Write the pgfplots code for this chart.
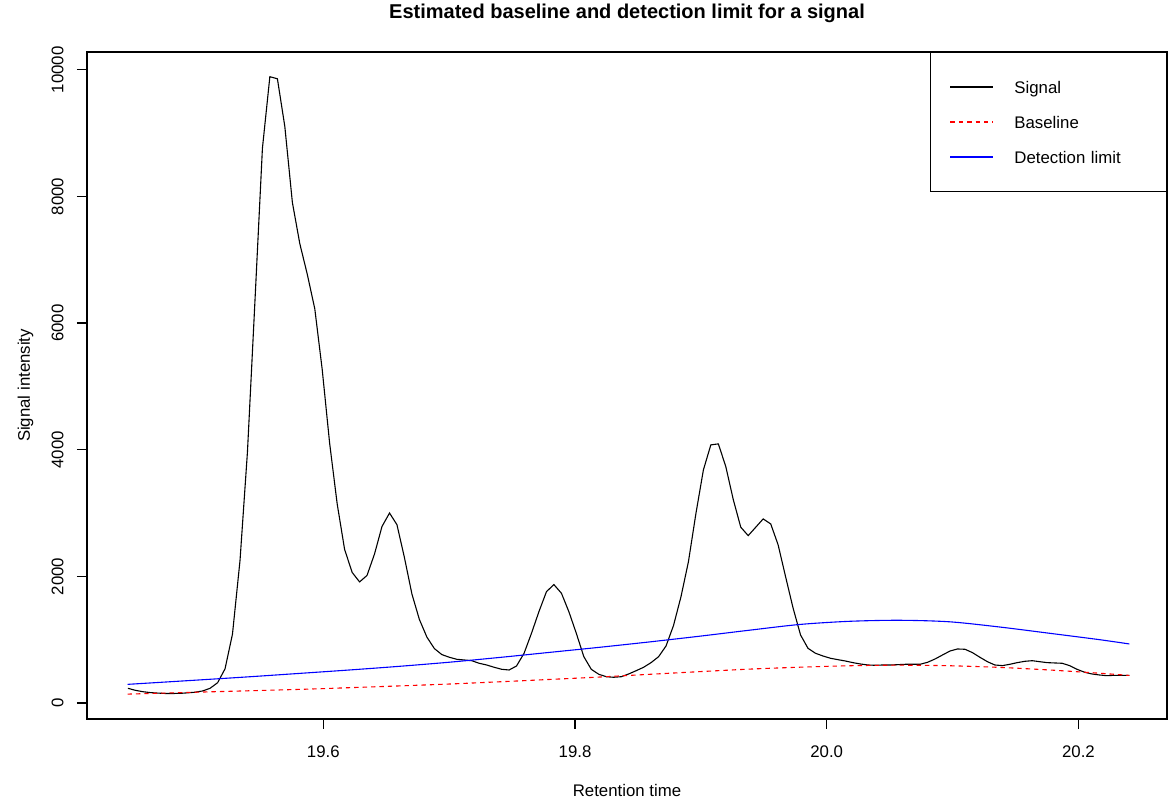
\documentclass[border=0pt]{standalone}
\usepackage{fontspec}
\setmainfont{Liberation Sans}
\usepackage{pgfplots}
\usepackage{pgfplotstable}
\pgfplotsset{compat=1.18}

% Signal intensity against retention time
\pgfplotstableread{
t y
19.4447 232
19.4506 200
19.4566 178
19.4625 164
19.4685 156
19.4744 150
19.4803 150
19.4863 152
19.4922 160
19.4982 170
19.5041 190
19.5100 232
19.5160 320
19.5219 540
19.5278 1088
19.5338 2253
19.5397 3965
19.5457 6363
19.5516 8761
19.5575 9891
19.5635 9858
19.5694 9104
19.5754 7905
19.5813 7254
19.5872 6774
19.5932 6226
19.5991 5267
19.6050 4103
19.6110 3144
19.6169 2425
19.6229 2062
19.6288 1912
19.6347 2014
19.6407 2355
19.6466 2787
19.6526 3000
19.6585 2815
19.6644 2300
19.6704 1720
19.6763 1320
19.6823 1040
19.6882 860
19.6941 765
19.7001 722
19.7060 690
19.7120 679
19.7179 668
19.7238 627
19.7298 600
19.7357 564
19.7417 532
19.7476 521
19.7535 584
19.7595 785
19.7654 1101
19.7713 1442
19.7773 1758
19.7832 1870
19.7892 1733
19.7951 1442
19.8010 1101
19.8070 731
19.8129 532
19.8189 453
19.8248 415
19.8307 406
19.8367 415
19.8426 458
19.8486 510
19.8545 564
19.8604 637
19.8664 731
19.8723 900
19.8782 1220
19.8842 1679
19.8901 2230
19.8961 2997
19.9020 3681
19.9079 4076
19.9139 4092
19.9198 3733
19.9258 3207
19.9317 2776
19.9376 2643
19.9436 2776
19.9495 2907
19.9555 2828
19.9614 2496
19.9673 1995
19.9733 1496
19.9792 1074
19.9851 864
19.9911 785
19.9970 742
20.0030 706
20.0089 684
20.0148 663
20.0208 637
20.0267 616
20.0327 600
20.0386 595
20.0445 600
20.0505 600
20.0564 605
20.0624 611
20.0683 611
20.0742 611
20.0802 643
20.0861 695
20.0920 758
20.0980 821
20.1039 853
20.1099 848
20.1158 795
20.1217 722
20.1277 652
20.1336 600
20.1396 590
20.1455 611
20.1514 637
20.1574 658
20.1633 668
20.1692 652
20.1752 637
20.1811 632
20.1871 627
20.1930 590
20.1989 532
20.2049 485
20.2108 458
20.2168 442
20.2227 431
20.2286 437
20.2346 437
20.2405 437
}\signaltable

% Estimated baseline
\pgfplotstableread{
t y
19.4444 140
19.5024 172
19.5817 215
19.6214 242
19.6611 270
19.7008 300
19.7405 335
19.7802 372
19.8198 410
19.8595 453
19.8992 495
19.9389 535
19.9786 565
20.0183 588
20.0579 597
20.0976 588
20.1373 562
20.1770 521
20.2167 470
20.2405 435
}\baselinetable

% Detection limit
\pgfplotstableread{
t y
19.4444 294
19.5024 365
19.5421 415
19.5817 468
19.6214 522
19.6611 580
19.7008 645
19.7405 720
19.7802 800
19.8198 880
19.8595 965
19.8992 1055
19.9389 1150
19.9786 1240
20.0183 1290
20.0579 1306
20.0976 1282
20.1373 1200
20.1770 1101
20.2167 1000
20.2405 932
}\limittable

\newcommand\labelfont{\fontsize{8.4}{10}\selectfont}
% legend key: fixed-size cell with a short line segment
\newcommand\legline[2]{%
  \path[draw=none,fill=none] (0pt,-5.75pt) rectangle (42pt,11.75pt);
  \draw[color=#1, draw=#1, line width=0.6pt, #2] (10pt,3pt) -- (31.5pt,3pt);}

\begin{document}
\begin{tikzpicture}
\useasboundingbox (-43.5pt,-42pt) rectangle (540.5pt,359.5pt);
\begin{axis}[
  at={(0pt,0pt)}, anchor=south west,
  scale only axis, width=540pt, height=333.5pt,
  xmin=19.4122, xmax=20.2704, ymin=-253, ymax=10281,
  axis line style={line width=0.6pt},
  tick pos=left, tick align=outside,
  major tick length=5pt,
  every tick/.style={black, line width=0.6pt},
  xtick={19.6,19.8,20.0,20.2},
  xticklabels={19.6,19.8,20.0,20.2},
  ytick={0,2000,4000,6000,8000,10000},
  yticklabels={0,2000,4000,6000,8000,10000},
  scaled y ticks=false,
  tick label style={font=\labelfont},
  xticklabel style={anchor=base, yshift=-14.5pt},
  yticklabel style={xshift=-6.75pt, rotate=90, anchor=base},
  title={Estimated baseline and detection limit for a signal},
  title style={at={(axis description cs:0.5,1)}, anchor=base, yshift=10.75pt,
    font=\bfseries\fontsize{10}{12}\selectfont},
  xlabel={Retention time},
  xlabel style={at={(axis description cs:0.5,0)}, anchor=base, yshift=-39pt, font=\labelfont},
  ylabel={Signal intensity},
  ylabel style={at={(axis description cs:-0.05278,0.5)}, anchor=base, font=\labelfont},
  legend style={at={(rel axis cs:1,1)}, anchor=north east, draw=black, line width=0.6pt,
    fill=white, inner xsep=0pt, inner ysep=8.5pt, row sep=0pt, column sep=0pt,
    nodes={inner sep=0pt, text width=76pt, align=left, font=\labelfont},
    cells={anchor=base west}},
]
\addplot[black, line width=0.55pt,
  legend image code/.code={\legline{black}{}}]
  table[x=t, y=y] {\signaltable};
\addlegendentry{Signal}
\addplot[red, line width=0.55pt, dash pattern=on 2.2pt off 2pt, smooth,
  legend image code/.code={\legline{red}{dash pattern=on 2.2pt off 2pt}}]
  table[x=t, y=y] {\baselinetable};
\addlegendentry{Baseline}
\addplot[blue, line width=0.55pt, smooth,
  legend image code/.code={\legline{blue}{}}]
  table[x=t, y=y] {\limittable};
\addlegendentry{Detection limit}
\end{axis}
\end{tikzpicture}
\end{document}
